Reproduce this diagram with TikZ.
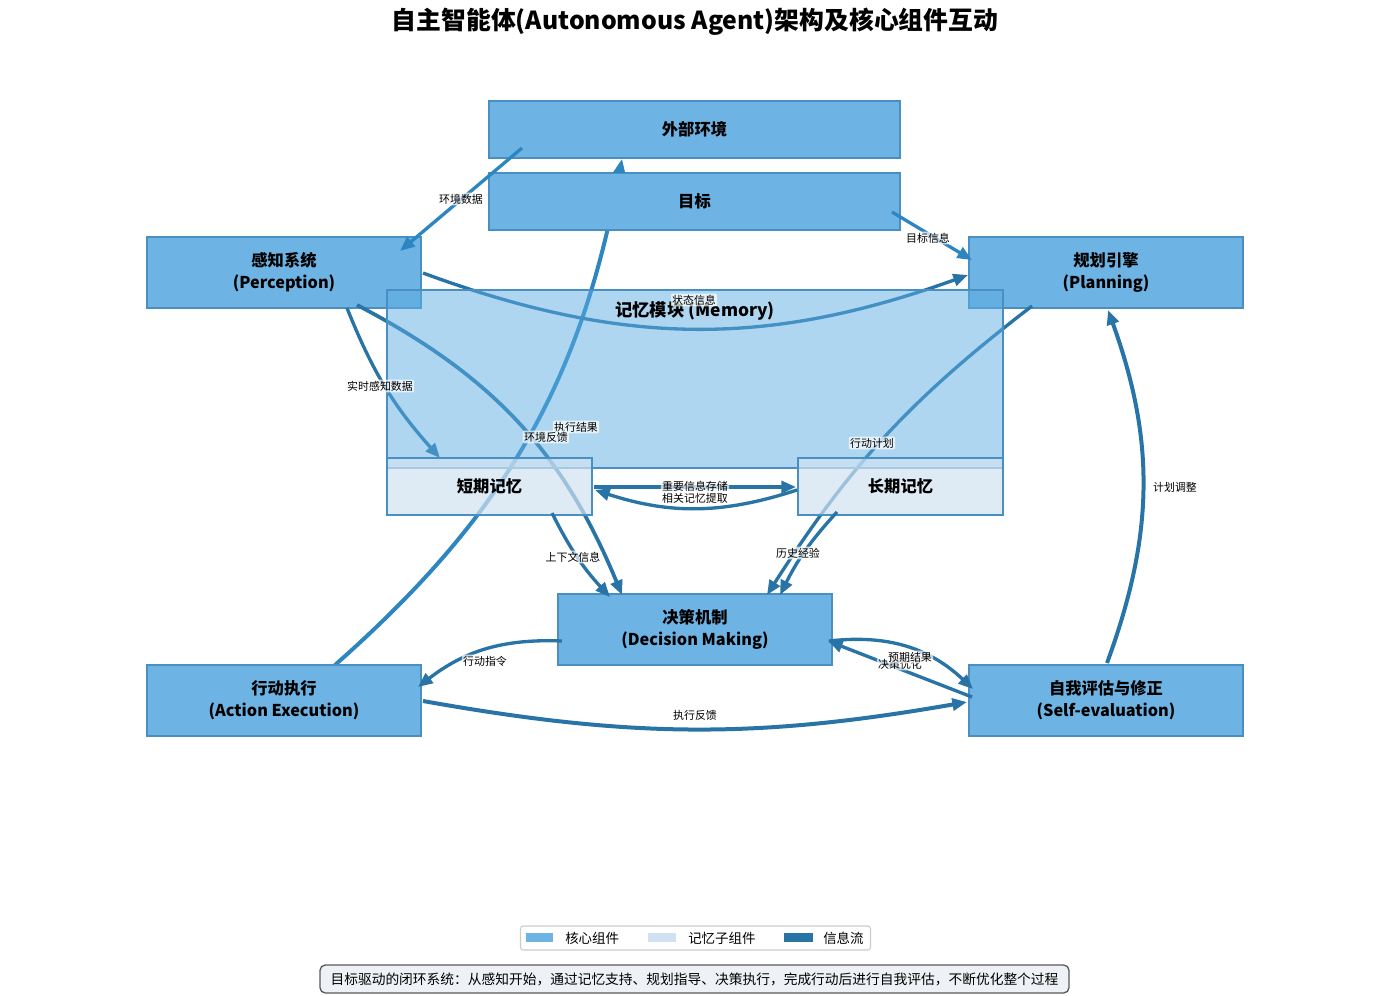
\documentclass[tikz,border=0pt]{standalone}
\usepackage{fontspec}
\setmainfont{Noto Sans CJK SC}
\usetikzlibrary{arrows.meta}
\definecolor{cCore}{HTML}{6DB3E3}
\definecolor{cEdge}{HTML}{4A8FC2}
\definecolor{cMem}{HTML}{5DADE2}
\definecolor{cSub}{HTML}{D0E2F1}
\definecolor{cFlow}{HTML}{2874A6}
\definecolor{cFlowB}{HTML}{2E86C1}
\definecolor{cCap}{HTML}{EEF2F6}
\begin{document}
\begin{tikzpicture}[x=0.75pt,y=-0.75pt,
 corebox/.style={draw=cEdge,fill=cCore,line width=1.1pt,inner sep=0pt,outer sep=0pt,align=center,font=\fontsize{12.2}{16.5}\selectfont\bfseries,minimum width=205.5pt,minimum height=53.25pt},
 widebox/.style={corebox,minimum width=308.25pt,minimum height=42.75pt},
 subbox/.style={draw=cEdge,fill=cSub,fill opacity=0.7,text opacity=1,line width=1.1pt,inner sep=0pt,outer sep=0pt,minimum width=153.75pt,minimum height=42.75pt,font=\fontsize{12.2}{16.5}\selectfont\bfseries},
 flowarrow/.style={draw=cFlow,line width=2.5pt,-{Triangle[length=11pt,width=9pt]}},
 extarrow/.style={draw=cFlowB,line width=3pt,-{Triangle[length=13pt,width=10pt]}},
 lbl/.style={fill=white,fill opacity=0.7,text opacity=1,rounded corners=1.5pt,inner sep=1pt,font=\fontsize{8.2}{9}\selectfont},
]
\useasboundingbox (0,0) rectangle (1389,996);

% title
\node[font=\fontsize{18.6}{22}\selectfont\bfseries] (title) at (695,22) {自主智能体(Autonomous Agent)架构及核心组件互动};

% anchor points for the first arrow
\path (284,700.5) coordinate (actc) (694.5,129.5) coordinate (extc);

% arrow under the goal box
\draw[extarrow] ([shift={(51,-35.5)}]actc) to[bend right=19] ([shift={(-72.5,29.5)}]extc);

% core boxes
\node[widebox] (ext) at (694.5,129.5) {外部环境};
\node[widebox] (goal) at (694.5,201.5) {目标};
\node[corebox] (per) at (284,272.5) {感知系统\\(Perception)};
\node[corebox] (plan) at (1106,272.5) {规划引擎\\(Planning)};
\node[corebox] (dec) at (695,629.5) {决策机制\\(Decision Making)};
\node[corebox] (act) at (284,700.5) {行动执行\\(Action Execution)};
\node[corebox] (self) at (1106,700.5) {自我评估与修正\\(Self-evaluation)};

% arrowhead of the first arrow, visible between the two top boxes
\begin{scope}
\clip (560,157) rectangle (680,172.5);
\draw[extarrow] ([shift={(51,-35.5)}]act.center) to[bend right=19] ([shift={(-72.5,29.5)}]ext.center);
\end{scope}

% arrows passing through memory module
\draw[flowarrow] ([shift={(139,0.5)}]per.center) to[bend right=20] ([shift={(-138,2.5)}]plan.center);
\draw[flowarrow] ([shift={(63,35.5)}]per.center) to[bend right=10] (440,458) coordinate (stmtop);
\draw[flowarrow,line width=2.8pt] ([shift={(73,32.5)}]per.center) to[bend left=20] ([shift={(-73,-34.5)}]dec.center);
\draw[flowarrow] ([shift={(-74,33.5)}]plan.center) to[bend right=10] ([shift={(72,-34.5)}]dec.center);

% memory module
\node[draw=cEdge,fill=cMem,fill opacity=0.5,line width=1.1pt,inner sep=0pt,minimum width=462pt,minimum height=133.5pt] (mem) at (695,379) {};
\node[font=\fontsize{13}{15}\selectfont\bfseries] (memt) at (695,311) {记忆模块 (Memory)};
\node[subbox] (stm) at (489.5,486.5) {短期记忆};
\node[subbox] (ltm) at (900.5,486.5) {长期记忆};

% other arrows
\draw[flowarrow,draw=cFlowB] ([shift={(-172.5,18.5)}]ext.center) -- ([shift={(116,-21.5)}]per.center);
\draw[flowarrow,draw=cFlowB] ([shift={(197.5,10.5)}]goal.center) -- ([shift={(-134,-12.5)}]plan.center);
\draw[flowarrow] ([shift={(62.5,26.5)}]stm.center) to[bend right=8] ([shift={(-85,-32.5)}]dec.center);
\draw[flowarrow] ([shift={(-63.5,25.5)}]ltm.center) to[bend right=8] ([shift={(85,-34.5)}]dec.center);
\draw[flowarrow] ([shift={(104.5,0.5)}]stm.center) -- ([shift={(-104.5,0.5)}]ltm.center);
\draw[flowarrow] ([shift={(-103.5,3.5)}]ltm.center) to[bend left=18] ([shift={(105.5,3.5)}]stm.center);
\draw[flowarrow] ([shift={(-133,11.5)}]dec.center) to[bend right=20] ([shift={(134,-13.5)}]act.center);
\draw[flowarrow,line width=3pt] ([shift={(139,0.5)}]act.center) to[bend right=10] ([shift={(-139,1.5)}]self.center);
\draw[flowarrow] ([shift={(134,11.5)}]dec.center) to[bend left=25] ([shift={(-133,-11.5)}]self.center);
\draw[flowarrow] ([shift={(-134,-3.5)}]self.center) -- ([shift={(133,11.5)}]dec.center);
\draw[flowarrow,line width=3pt] ([shift={(1,-37.5)}]self.center) to[bend right=20] ([shift={(2,37.5)}]plan.center);

% labels
\node[lbl] (l1) at (461,199) {环境数据};
\node[lbl] (l2) at (928,238) {目标信息};
\node[lbl] (l3) at (694,300) {状态信息};
\node[lbl] (l4) at (380,386) {实时感知数据};
\node[lbl] (l5) at (576,427) {执行结果};
\node[lbl] (l6) at (546,437) {环境反馈};
\node[lbl] (l7) at (872,443) {行动计划};
\node[lbl] (l8) at (695,486) {重要信息存储};
\node[lbl] (l9) at (695,498) {相关记忆提取};
\node[lbl] (l10) at (1175,487) {计划调整};
\node[lbl] (l11) at (573,557) {上下文信息};
\node[lbl] (l12) at (798,553) {历史经验};
\node[lbl] (l13) at (485,661) {行动指令};
\node[lbl] (l14) at (900,664) {决策优化};
\node[lbl] (l15) at (910,657) {预期结果};
\node[lbl] (l16) at (695,715) {执行反馈};

% legend
\node[draw=black!20,fill=white,rounded corners=2pt,line width=0.8pt,minimum width=262.5pt,minimum height=18pt,inner sep=0pt] (leg) at (695.5,938) {};
\fill[cCore] (526,933) rectangle (553,942);
\node[anchor=west,inner sep=0pt,font=\fontsize{10.1}{12}\selectfont] (lg1) at (565,938) {核心组件};
\fill[cSub] (648,933) rectangle (676,942);
\node[anchor=west,inner sep=0pt,font=\fontsize{10.1}{12}\selectfont] (lg2) at (688,938) {记忆子组件};
\fill[cFlow] (784,933) rectangle (813,942);
\node[anchor=west,inner sep=0pt,font=\fontsize{10.1}{12}\selectfont] (lg3) at (823,938) {信息流};

% caption
\node[draw=black!65,fill=cCap,rounded corners=4pt,line width=1pt,minimum width=561.75pt,minimum height=21pt,inner sep=0pt,font=\fontsize{10.3}{12}\selectfont] (cap) at (694.5,979) {目标驱动的闭环系统：从感知开始，通过记忆支持、规划指导、决策执行，完成行动后进行自我评估，不断优化整个过程};
\end{tikzpicture}
\end{document}
